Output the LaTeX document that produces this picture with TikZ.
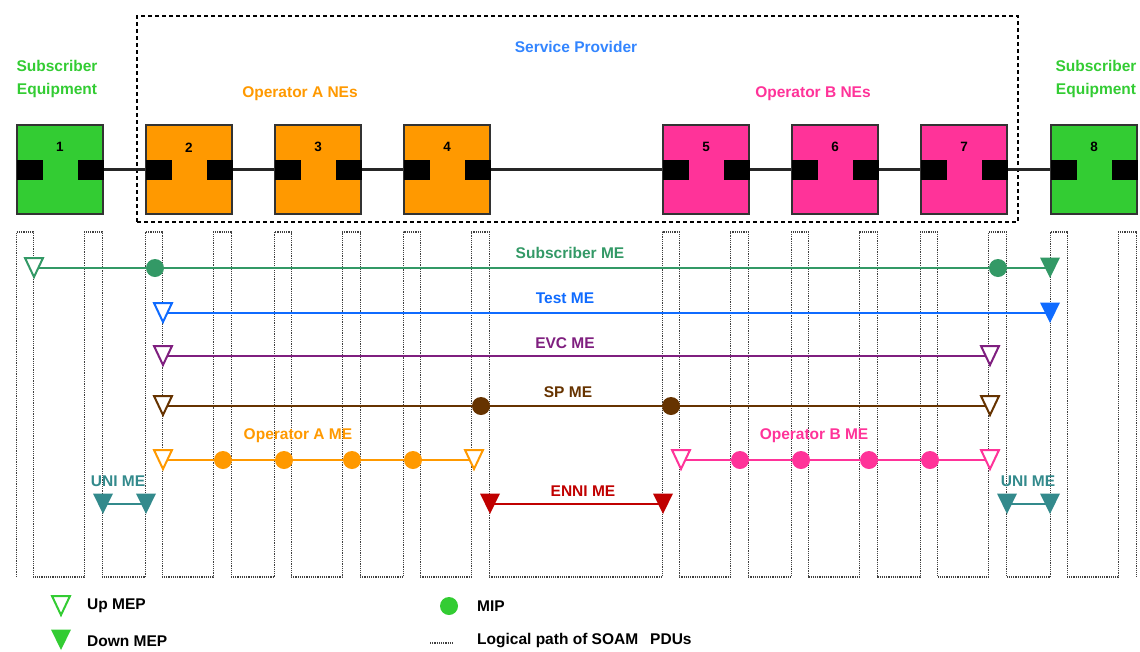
\documentclass[tikz,border=0pt]{standalone}
\usepackage{fontspec}
\setmainfont{Liberation Sans}
\usetikzlibrary{positioning,backgrounds}

\definecolor{subgreen}{HTML}{33CC33}
\definecolor{opaorange}{HTML}{FF9900}
\definecolor{opbpink}{HTML}{FF3399}
\definecolor{spblue}{HTML}{3385FF}
\definecolor{submecol}{HTML}{339966}
\definecolor{testmecol}{HTML}{0F6BFF}
\definecolor{evcmecol}{HTML}{7F1F7F}
\definecolor{spmecol}{HTML}{663300}
\definecolor{unimecol}{HTML}{338A8C}
\definecolor{ennimecol}{HTML}{C00000}

\tikzset{
  nebox/.style={draw=black!80, line width=1.4, minimum width=86, minimum height=89, inner sep=0},
  port/.style={fill=black, minimum width=26, minimum height=20, inner sep=0},
  numlbl/.style={font=\bfseries\fontsize{13.5}{15}\selectfont, inner sep=0},
  lbl/.style={font=\bfseries\fontsize{15.5}{23}\selectfont, align=center, inner sep=0},
  link/.style={line width=2.2, black!85},
  spframe/.style={draw, line width=1.6, dash pattern=on 4pt off 3pt, minimum width=881, minimum height=206, inner sep=0},
  logical/.style={dash pattern=on 1.2pt off 1pt, line width=1.6, black!75},
  meline/.style={line width=2.6, draw=#1},
  upmep/.style={minimum size=26, inner sep=0, path picture={
    \draw[line width=2, draw=#1, fill=white] ([shift={(-9pt,10pt)}]path picture bounding box.center) -- ++(18pt,0pt) -- ++(-9pt,-19pt) -- cycle;}},
  downmep/.style={minimum size=26, inner sep=0, path picture={
    \fill[#1] ([shift={(-10pt,10.5pt)}]path picture bounding box.center) -- ++(20pt,0pt) -- ++(-10pt,-20.5pt) -- cycle;}},
  mip/.style={circle, fill=#1, minimum size=18, inner sep=0}
}

\begin{document}
\begin{tikzpicture}[x=1pt, y=-1pt]
  \useasboundingbox (0,0) rectangle (1140,651);
  \node[spframe] (sp) at (577.5,119) {};
  \node[lbl, text=spblue] (splbl) at (576,47) {Service Provider};
  \node[lbl, text=subgreen] (subeqa) at (57,79) {Subscriber\\Equipment};
  \node[lbl, text=subgreen] (subeqb) at (1096,79) {Subscriber\\Equipment};
  \node[lbl, text=opaorange] (opalbl) at (300,94) {Operator A NEs};
  \node[lbl, text=opbpink] (opblbl) at (813,94) {Operator B NEs};

  \node[nebox, fill=subgreen] (ne1) at (60,169.5) {};
  \node[nebox, fill=opaorange] (ne2) at (189,169.5) {};
  \node[nebox, fill=opaorange] (ne3) at (318,169.5) {};
  \node[nebox, fill=opaorange] (ne4) at (447,169.5) {};
  \node[nebox, fill=opbpink] (ne5) at (706,169.5) {};
  \node[nebox, fill=opbpink] (ne6) at (835,169.5) {};
  \node[nebox, fill=opbpink] (ne7) at (964,169.5) {};
  \node[nebox, fill=subgreen] (ne8) at (1094,169.5) {};
  \foreach \i in {1,...,8} {
    \node[port, anchor=west] (pl\i) at (ne\i.west) {};
    \node[port, anchor=east] (pr\i) at (ne\i.east) {};
    \node[numlbl] (num\i) at ([yshift=-23pt]ne\i.north) {\i};
  }
  \foreach \i [evaluate=\i as \j using int(\i+1)] in {1,...,7}
    \draw[link] (pr\i) -- (pl\j);

  \coordinate (top) at (0,232);
  \coordinate (bot) at (0,577);

  \node[upmep=submecol] (sub1) at (34,268) {};
  \node[mip=submecol] (sub2) at (155,268) {};
  \node[mip=submecol] (sub3) at (998,268) {};
  \node[downmep=submecol] (sub4) at (1050,268) {};
  \node[lbl, text=submecol] (sublbl) at (570,253) {Subscriber ME};

  \node[upmep=testmecol] (test1) at (163,313) {};
  \node[downmep=testmecol] (test2) at (1050,313) {};
  \node[lbl, text=testmecol] (testlbl) at (565,298) {Test ME};

  \node[upmep=evcmecol] (evc1) at (163,356) {};
  \node[upmep=evcmecol] (evc2) at (990,356) {};
  \node[lbl, text=evcmecol] (evclbl) at (565,343) {EVC ME};

  \node[upmep=spmecol] (spm1) at (163,406) {};
  \node[mip=spmecol] (spm2) at (481,406) {};
  \node[mip=spmecol] (spm3) at (671,406) {};
  \node[upmep=spmecol] (spm4) at (990,406) {};
  \node[lbl, text=spmecol] (spmlbl) at (568,392) {SP ME};

  \node[upmep=opaorange] (opa1) at (163,460) {};
  \node[mip=opaorange] (opa2) at (223,460) {};
  \node[mip=opaorange] (opa3) at (284,460) {};
  \node[mip=opaorange] (opa4) at (352,460) {};
  \node[mip=opaorange] (opa5) at (413,460) {};
  \node[upmep=opaorange] (opa6) at (474,460) {};
  \node[lbl, text=opaorange] (opamelbl) at (298,436) {Operator A ME};

  \node[upmep=opbpink] (opb1) at (681,460) {};
  \node[mip=opbpink] (opb2) at (740,460) {};
  \node[mip=opbpink] (opb3) at (801,460) {};
  \node[mip=opbpink] (opb4) at (869,460) {};
  \node[mip=opbpink] (opb5) at (930,460) {};
  \node[upmep=opbpink] (opb6) at (990,460) {};
  \node[lbl, text=opbpink] (opbmelbl) at (814,436) {Operator B ME};

  \node[downmep=unimecol] (unia1) at (103,504) {};
  \node[downmep=unimecol] (unia2) at (146,504) {};
  \node[lbl, text=unimecol] (unialbl) at (118,481) {UNI ME};
  \node[downmep=ennimecol] (enni1) at (490,504) {};
  \node[downmep=ennimecol] (enni2) at (663,504) {};
  \node[lbl, text=ennimecol] (ennilbl) at (583,491) {ENNI ME};
  \node[downmep=unimecol] (unib1) at (1007,504) {};
  \node[downmep=unimecol] (unib2) at (1050,504) {};
  \node[lbl, text=unimecol] (uniblbl) at (1028,481) {UNI ME};

  \node[upmep=subgreen] (lgup) at (61,606) {};
  \node[lbl, anchor=west] (lguptxt) at (87,606) {Up MEP};
  \node[downmep=subgreen] (lgdown) at (61,640) {};
  \node[lbl, anchor=west] (lgdowntxt) at (87,641) {Down MEP};
  \node[mip=subgreen] (lgmip) at (449,606) {};
  \node[lbl, anchor=west] (lgmiptxt) at (477,606) {MIP};
  \coordinate (lgpa) at (430,643);
  \coordinate (lgpb) at (453,643);
  \node[lbl, anchor=west] (lgpathtxt) at (477,641) {Logical path of SOAM\hspace{12pt}PDUs};

  \begin{scope}[on background layer]
    \draw[logical] (pl1.west |- bot) foreach \i in {1,...,8} {
      -- (pl\i.west |- bot) -- ++(0,-345) -- ++(17,0) -- ++(0,345)
      -- ++(51,0) -- ++(0,-345) -- ++(18,0) -- ++(0,345) };
    \draw[logical] (lgpa) -- (lgpb);
    \draw[meline=submecol] (sub1.center) -- (sub4.center);
    \draw[meline=testmecol] (test1.center) -- (test2.center);
    \draw[meline=evcmecol] (evc1.center) -- (evc2.center);
    \draw[meline=spmecol] (spm1.center) -- (spm4.center);
    \draw[meline=opaorange] (opa1.center) -- (opa6.center);
    \draw[meline=opbpink] (opb1.center) -- (opb6.center);
    \draw[meline=unimecol] (unia1.center) -- (unia2.center);
    \draw[meline=ennimecol] (enni1.center) -- (enni2.center);
    \draw[meline=unimecol] (unib1.center) -- (unib2.center);
  \end{scope}
\end{tikzpicture}
\end{document}
